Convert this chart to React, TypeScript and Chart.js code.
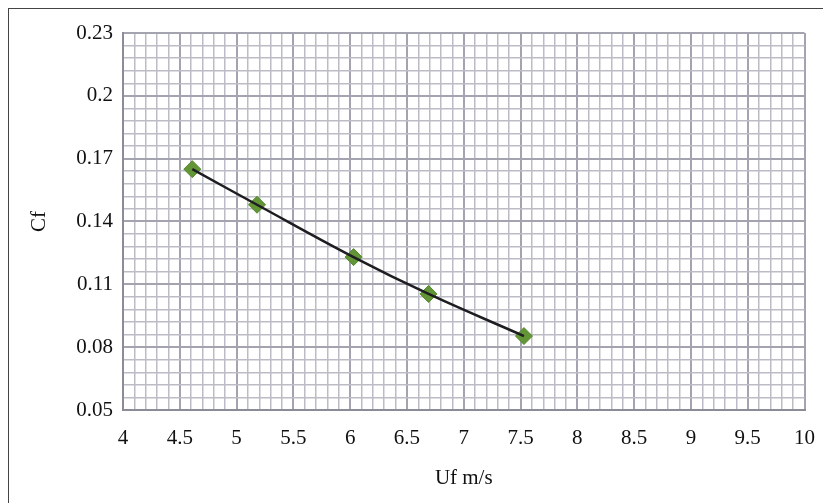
import React, { useEffect, useRef } from "react";
import { Chart, registerables } from "chart.js";

Chart.register(...registerables);

const ufValues = [4.61, 5.18, 6.03, 6.69, 7.53];
const cfValues = [0.165, 0.148, 0.123, 0.1054, 0.0853];
const xTickLabels = ["4", "4.5", "5", "5.5", "6", "6.5", "7", "7.5", "8", "8.5", "9", "9.5", "10"];
const yTickLabels = ["0.05", "0.08", "0.11", "0.14", "0.17", "0.2", "0.23"];

const X_MIN = 4, X_MAX = 10, X_MINOR = 0.1;
const Y_MIN = 0.05, Y_MAX = 0.23, Y_MINOR = 0.006;

const FONT = { family: "'Liberation Serif', 'Times New Roman', serif", size: 21 };
const MINOR = "#bcbcc6";
const MAJOR = "#a4a4b0";
const AXIS = "#8c8c96";

export default function App() {
  const ref = useRef<HTMLCanvasElement>(null);
  useEffect(() => {
    if (!ref.current) return;
    const pts = ufValues.map((x, i) => ({ x, y: cfValues[i] }));
    const xCount = Math.round((X_MAX - X_MIN) / X_MINOR);
    const yCount = Math.round((Y_MAX - Y_MIN) / Y_MINOR);
    const chart = new Chart(ref.current, {
      type: "scatter",
      data: {
        datasets: [
          {
            data: pts,
            showLine: true,
            borderColor: "#1e1e22",
            borderWidth: 2.5,
            tension: 0.4,
            pointRadius: 0,
            order: 0,
          } as any,
          {
            data: pts,
            showLine: false,
            pointStyle: "rectRot",
            pointRadius: 8.5,
            backgroundColor: "#619535",
            borderColor: "#558a2c",
            borderWidth: 1,
            order: 1,
          } as any,
        ],
      },
      options: {
        animation: false,
        responsive: true,
        maintainAspectRatio: false,
        layout: { padding: { left: 0, top: 24, right: 24, bottom: 0 } },
        plugins: { legend: { display: false }, tooltip: { enabled: false } },
        scales: {
          x: {
            type: "linear",
            min: X_MIN,
            max: X_MAX,
            afterBuildTicks: (s: any) => {
              s.ticks = Array.from({ length: xCount + 1 }, (_, i) => ({ value: X_MIN + i * X_MINOR }));
            },
            afterFit: (s: any) => {
              s.height = 93;
            },
            ticks: {
              autoSkip: false,
              maxRotation: 0,
              padding: 16,
              color: "#111",
              font: FONT,
              callback: (_v: any, i: number) => (i % 5 === 0 ? xTickLabels[i / 5] : ""),
            },
            grid: {
              drawTicks: false,
              color: (c: any) => (c.index % 5 === 0 ? MAJOR : MINOR),
              lineWidth: (c: any) => (c.index % 5 === 0 ? 2 : 1.5),
            },
            border: { color: AXIS, width: 2 },
            title: {
              display: true,
              text: "Uf m/s",
              color: "#111",
              font: FONT,
              padding: { top: 0, bottom: 12 },
            },
          },
          y: {
            type: "linear",
            min: Y_MIN,
            max: Y_MAX,
            afterBuildTicks: (s: any) => {
              s.ticks = Array.from({ length: yCount + 1 }, (_, i) => ({ value: Y_MIN + i * Y_MINOR }));
            },
            afterFit: (s: any) => {
              s.width = 114;
            },
            ticks: {
              autoSkip: false,
              padding: 10,
              color: "#111",
              font: FONT,
              callback: (_v: any, i: number) => (i % 5 === 0 ? yTickLabels[i / 5] : ""),
            },
            grid: {
              drawTicks: false,
              color: (c: any) => (c.index % 5 === 0 ? MAJOR : MINOR),
              lineWidth: (c: any) => (c.index % 5 === 0 ? 2 : 1.5),
            },
            border: { color: AXIS, width: 2 },
            title: {
              display: true,
              text: "Cf",
              color: "#111",
              font: FONT,
              padding: { top: 18, bottom: 0 },
            },
          },
        },
      },
    });
    return () => chart.destroy();
  }, []);

  return (
    <div
      style={{
        width: 823,
        height: 495,
        boxSizing: "border-box",
        borderTop: "1px solid #444",
        borderLeft: "1px solid #444",
        overflow: "hidden",
        background: "#fff",
      }}
    >
      <div style={{ position: "relative", width: 822, height: 494 }}>
        <canvas ref={ref} />
      </div>
    </div>
  );
}
